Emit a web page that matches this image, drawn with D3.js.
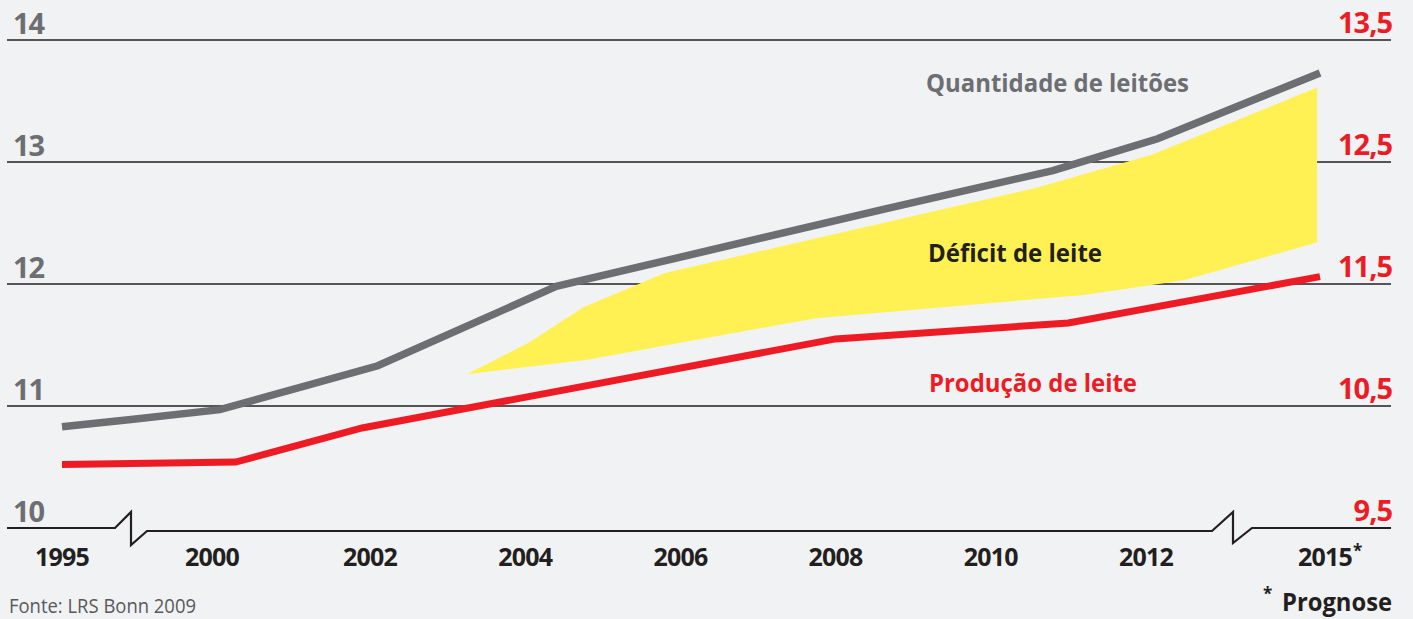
<!DOCTYPE html>
<html>
<head>
<meta charset="utf-8">
<script src="https://cdn.jsdelivr.net/npm/d3@7"></script>
<style>
  body { margin: 0; background: #f1f2f4; }
  svg { display: block; font-family: "Open Sans", "DejaVu Sans", sans-serif; }
</style>
</head>
<body>
<svg id="chart" width="1413" height="619"></svg>
<script>
// year ticks on the broken x axis
let yearTicks = [1995, 2000, 2002, 2004, 2006, 2008, 2010, 2012, 2015];
let leftTicks = [10, 11, 12, 13, 14];
let rightTicks = [9.5, 10.5, 11.5, 12.5, 13.5];

// Quantidade de leitões (left axis)
let pigletYears  = [1995, 1997.3, 2000.1, 2002.1, 2004.4, 2008.6, 2010.8, 2012.2, 2015];
let pigletValues = [10.83, 10.89, 10.97, 11.33, 11.98, 12.61, 12.93, 13.19, 13.73];

// Produção de leite (right axis)
let milkYears  = [1995, 2000.3, 2001.9, 2008.0, 2011.0, 2015];
let milkValues = [10.02, 10.04, 10.32, 11.05, 11.18, 11.56];

// Déficit de leite band (left axis units)
let deficitTopYears     = [2003.25, 2004.05, 2004.75, 2005.8, 2010.6, 2012.1, 2014.95];
let deficitTopValues    = [11.26, 11.52, 11.81, 12.09, 12.79, 13.06, 13.61];
let deficitBottomYears  = [2003.25, 2004.8, 2007.75, 2011.2, 2012.65, 2014.95];
let deficitBottomValues = [11.26, 11.38, 11.72, 11.91, 12.03, 12.34];

let breakYears = [1997.3, 2013.5];

let grey = "#6d6e71", red = "#ed1c24", dark = "#231f20", yellow = "#fff153";

let svg = d3.select("#chart");

let x = d3.scaleLinear()
    .domain([1995, 2000, 2002, 2012, 2015])
    .range([62, 212, 370, 1146, 1320]);
let yLeft = d3.scaleLinear().domain([10, 14]).range([528, 40]);
let yRight = d3.scaleLinear().domain([9.5, 13.5]).range([528, 40]);

let x0 = 7, x1 = 1391;

// gridlines (the 10 line is the broken baseline)
svg.append("g").selectAll("line")
    .data(leftTicks.slice(1))
    .enter().append("line")
    .attr("x1", x0).attr("x2", x1)
    .attr("y1", d => yLeft(d)).attr("y2", d => yLeft(d))
    .attr("stroke", dark).attr("stroke-width", 1.3);

// deficit band
let band = deficitTopYears.map((t, i) => [t, deficitTopValues[i]])
    .concat(deficitBottomYears.map((t, i) => [t, deficitBottomValues[i]]).reverse());
svg.append("path")
    .attr("d", d3.line().x(d => x(d[0])).y(d => yLeft(d[1]))(band) + "Z")
    .attr("fill", yellow);

// broken baseline
let y0 = yLeft(10), b1 = x(breakYears[0]), b2 = x(breakYears[1]);
let base = d3.path();
base.moveTo(x0, y0);
base.lineTo(b1 - 16, y0);
base.lineTo(b1, y0 - 16);
base.lineTo(b1, y0 + 17);
base.lineTo(b1 + 16, y0 + 3);
base.lineTo(b2 - 21, y0 + 3);
base.lineTo(b2, y0 - 16);
base.lineTo(b2, y0 + 15);
base.lineTo(b2 + 19, y0);
base.lineTo(x1, y0);
svg.append("path").attr("d", base.toString())
    .attr("fill", "none").attr("stroke", dark).attr("stroke-width", 2.2)
    .attr("stroke-linejoin", "miter");

// series lines
let pigletLine = d3.line().x(d => x(d[0])).y(d => yLeft(d[1]));
svg.append("path")
    .attr("d", pigletLine(pigletYears.map((t, i) => [t, pigletValues[i]])))
    .attr("fill", "none").attr("stroke", grey).attr("stroke-width", 7.5);

let milkLine = d3.line().x(d => x(d[0])).y(d => yRight(d[1]));
svg.append("path")
    .attr("d", milkLine(milkYears.map((t, i) => [t, milkValues[i]])))
    .attr("fill", "none").attr("stroke", red).attr("stroke-width", 7);

// left ticks
svg.append("g").selectAll("text")
    .data(leftTicks)
    .enter().append("text")
    .attr("x", 13).attr("y", d => yLeft(d) - 6)
    .attr("fill", grey).attr("font-weight", "bold").attr("font-size", 29)
    .attr("letter-spacing", -1)
    .text(d => d);

// right ticks
svg.append("g").selectAll("text")
    .data(rightTicks)
    .enter().append("text")
    .attr("x", 1392).attr("y", d => yRight(d) - 7)
    .attr("text-anchor", "end")
    .attr("fill", red).attr("font-weight", "bold").attr("font-size", 29)
    .attr("letter-spacing", -1)
    .text(d => String(d).replace(".", ","));

// year labels
svg.append("g").selectAll("text")
    .data(yearTicks)
    .enter().append("text")
    .attr("x", d => x(d) + (d === 2015 ? 5 : 0)).attr("y", 566)
    .attr("text-anchor", "middle")
    .attr("fill", dark).attr("font-weight", "bold").attr("font-size", 25)
    .attr("letter-spacing", -0.8)
    .text(d => d);
svg.append("text")
    .attr("x", x(2015) + 33).attr("y", 557)
    .attr("fill", dark).attr("font-weight", "bold").attr("font-size", 17)
    .text("*");

function fit(sel, w) {
    sel.attr("textLength", w).attr("lengthAdjust", "spacingAndGlyphs");
    return sel;
}

// series labels
fit(svg.append("text").attr("x", 926).attr("y", 92)
    .attr("fill", grey).attr("font-weight", "bold").attr("font-size", 25)
    .text("Quantidade de leitões"), 263);
fit(svg.append("text").attr("x", 928).attr("y", 262)
    .attr("fill", dark).attr("font-weight", "bold").attr("font-size", 25)
    .text("Déficit de leite"), 174);
fit(svg.append("text").attr("x", 929).attr("y", 392)
    .attr("fill", red).attr("font-weight", "bold").attr("font-size", 25)
    .text("Produção de leite"), 208);

// footnotes
fit(svg.append("text").attr("x", 9).attr("y", 613)
    .attr("fill", "#58595b").attr("font-size", 20)
    .text("Fonte: LRS Bonn 2009"), 187);
svg.append("text").attr("x", 1263).attr("y", 600)
    .attr("fill", dark).attr("font-weight", "bold").attr("font-size", 17)
    .text("*");
fit(svg.append("text").attr("x", 1282).attr("y", 611)
    .attr("fill", dark).attr("font-weight", "bold").attr("font-size", 25)
    .text("Prognose"), 110);
</script>
</body>
</html>
